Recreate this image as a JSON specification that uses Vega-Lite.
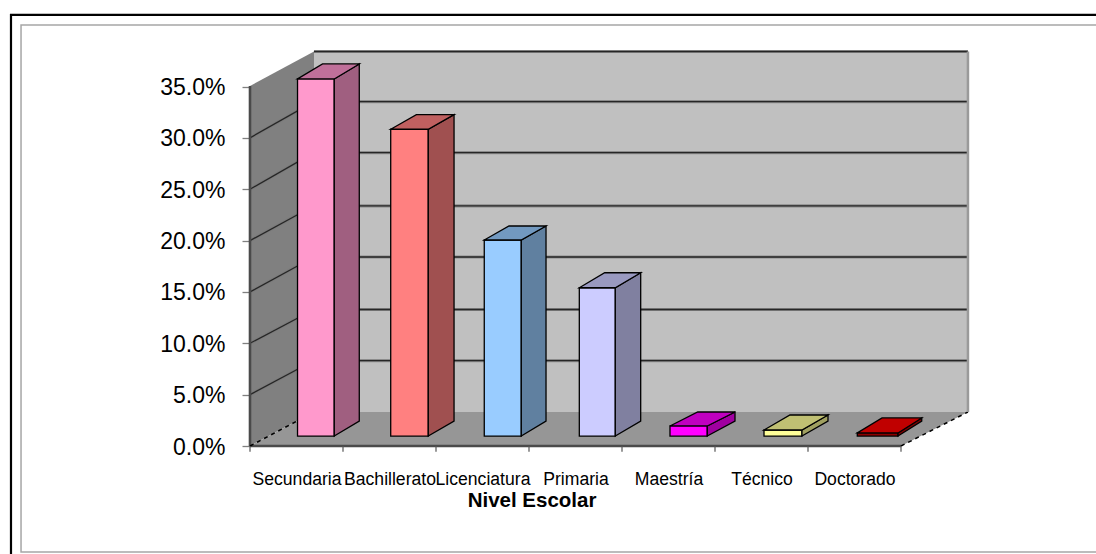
{"$schema":"https://vega.github.io/schema/vega-lite/v6.json","width":719,"height":395,"autosize":"none","padding":{"left":250,"top":51,"right":127,"bottom":108},"background":"#ffffff","config":{"view":{"stroke":null},"font":"Liberation Sans"},
"layer":[
{"data":{"values":[{"x":-2.57,"x2":9.5,"y":0.4197,"y2":-0.15}]},"mark":{"type":"rect","fill":null,"stroke":"#000000","strokeWidth":2.2},"encoding":{"x":{"field":"x","type":"quantitative","scale":{"domain":[0,7.7312],"nice":false,"zero":false},"axis":{"title":"Nivel Escolar","titleFont":"Liberation Sans","titleFontSize":20.5,"titleFontWeight":"bold","titleColor":"#000000","titleX":281.5,"titleY":60,"titleBaseline":"alphabetic","values":[0.5,1.5,2.5,3.5,4.5,5.5,6.5],"labelExpr":"['Secundaria','Bachillerato','Licenciatura','Primaria','Maestría','Técnico','Doctorado'][floor(datum.value)]","labelFont":"Liberation Sans","labelFontSize":17.6,"labelColor":"#000000","labelPadding":24,"labelOverlap":false,"labelFlush":false,"labelBound":false,"ticks":false,"domain":false,"grid":false}},"x2":{"field":"x2"},"y":{"field":"y","type":"quantitative","scale":{"domain":[0,0.3846],"nice":false,"zero":false},"axis":{"title":null,"values":[0,0.05,0.1,0.15,0.2,0.25,0.3,0.35],"format":".1%","labelFont":"Liberation Sans","labelFontSize":23,"labelColor":"#000000","labelPadding":17,"labelOffset":1,"tickSize":8,"tickColor":"#808080","tickWidth":1.3,"domain":false,"grid":false}},"y2":{"field":"y2"}}},
{"data":{"values":[{"x":-2.462,"x2":9.5,"y":0.4099,"y2":-0.1032}]},"mark":{"type":"rect","fill":null,"stroke":"#a6a6a6","strokeWidth":1.5},"encoding":{"x":{"field":"x","type":"quantitative"},"x2":{"field":"x2"},"y":{"field":"y","type":"quantitative"},"y2":{"field":"y2"}}},
{"data":{"values":[
{"cara":"pared izquierda","x":0,"y":0,"y2":0.3505},{"cara":"pared izquierda","x":0.688,"y":0.0331,"y2":0.3841},
{"cara":"pared fondo","x":0.688,"y":0.0331,"y2":0.3841},{"cara":"pared fondo","x":7.72,"y":0.0331,"y2":0.3841},
{"cara":"piso","x":0,"y":0,"y2":0},{"cara":"piso","x":0.688,"y":0,"y2":0.0331},{"cara":"piso","x":7,"y":0,"y2":0.0331},{"cara":"piso","x":7.72,"y":0.0331,"y2":0.0331}
]},"mark":{"type":"area","interpolate":"linear"},"encoding":{"x":{"field":"x","type":"quantitative"},"y":{"field":"y","type":"quantitative","stack":null},"y2":{"field":"y2"},"fill":{"field":"cara","type":"nominal","legend":null,"scale":{"domain":["pared izquierda","pared fondo","piso"],"range":["#808080","#c0c0c0","#969696"]}}}},
{"data":{"name":"rejilla","values":[
{"x":0.688,"x2":7.72,"y":0.0832,"y2":0.0832},{"x":0.688,"x2":7.72,"y":0.1329,"y2":0.1329},{"x":0.688,"x2":7.72,"y":0.184,"y2":0.184},{"x":0.688,"x2":7.72,"y":0.2339,"y2":0.2339},{"x":0.688,"x2":7.72,"y":0.2856,"y2":0.2856},{"x":0.688,"x2":7.72,"y":0.3353,"y2":0.3353},{"x":0.688,"x2":7.72,"y":0.3841,"y2":0.3841},
{"x":0,"x2":0.688,"y":0.05,"y2":0.0832},{"x":0,"x2":0.688,"y":0.1,"y2":0.1329},{"x":0,"x2":0.688,"y":0.15,"y2":0.184},{"x":0,"x2":0.688,"y":0.2,"y2":0.2339},{"x":0,"x2":0.688,"y":0.25,"y2":0.2856},{"x":0,"x2":0.688,"y":0.3,"y2":0.3353}
]},"mark":{"type":"rule","stroke":"#7a7a7a","strokeWidth":3.2,"opacity":0.75},"encoding":{"x":{"field":"x","type":"quantitative"},"x2":{"field":"x2"},"y":{"field":"y","type":"quantitative"},"y2":{"field":"y2"}}},
{"data":{"name":"rejilla"},"mark":{"type":"rule","stroke":"#262626","strokeWidth":1.3},"encoding":{"x":{"field":"x","type":"quantitative"},"x2":{"field":"x2"},"y":{"field":"y","type":"quantitative"},"y2":{"field":"y2"}}},
{"data":{"values":[{"x":0,"x2":0,"y":0,"y2":0.3505},{"x":0,"x2":7,"y":0,"y2":0}]},"mark":{"type":"rule","stroke":"#4a4a4a","strokeWidth":2.6},"encoding":{"x":{"field":"x","type":"quantitative"},"x2":{"field":"x2"},"y":{"field":"y","type":"quantitative"},"y2":{"field":"y2"}}},
{"data":{"values":[{"x":0,"x2":0.688,"y":0,"y2":0.0331},{"x":7,"x2":7.72,"y":0,"y2":0.0331}]},"mark":{"type":"rule","stroke":"#000000","strokeWidth":1.5,"strokeDash":[4,4]},"encoding":{"x":{"field":"x","type":"quantitative"},"x2":{"field":"x2"},"y":{"field":"y","type":"quantitative"},"y2":{"field":"y2"}}},
{"data":{"values":[{"x":7.72,"x2":7.72,"y":0.0331,"y2":0.3841}]},"mark":{"type":"rule","stroke":"#9a9a9a","strokeWidth":2.5},"encoding":{"x":{"field":"x","type":"quantitative"},"x2":{"field":"x2"},"y":{"field":"y","type":"quantitative"},"y2":{"field":"y2"}}},
{"data":{"values":[{"x":0,"y":0},{"x":1,"y":0},{"x":2,"y":0},{"x":3,"y":0},{"x":4,"y":0},{"x":5,"y":0},{"x":6,"y":0},{"x":7,"y":0}]},"mark":{"type":"rule","stroke":"#555555","strokeWidth":1.2},"encoding":{"x":{"field":"x","type":"quantitative"},"y":{"field":"y","type":"quantitative"},"y2":{"datum":-0.0055}}},
{"data":{"values":[{"nivel":"Secundaria","x":0.511,"x2":0.906,"tope":0.3574,"base":0.0097},{"nivel":"Bachillerato","x":1.513,"x2":1.917,"tope":0.3084,"base":0.0097},{"nivel":"Licenciatura","x":2.519,"x2":2.917,"tope":0.2006,"base":0.0097},{"nivel":"Primaria","x":3.541,"x2":3.928,"tope":0.1541,"base":0.0097},{"nivel":"Maestría","x":4.516,"x2":4.917,"tope":0.0195,"base":0.0097},{"nivel":"Técnico","x":5.527,"x2":5.935,"tope":0.0156,"base":0.0097},{"nivel":"Doctorado","x":6.53,"x2":6.968,"tope":0.0127,"base":0.0097}]},"mark":{"type":"rect","stroke":"#000000","strokeWidth":1.3},"encoding":{"x":{"field":"x","type":"quantitative"},"x2":{"field":"x2"},"y":{"field":"tope","type":"quantitative"},"y2":{"field":"base"},"fill":{"field":"nivel","type":"nominal","legend":null,"scale":{"domain":["Secundaria","Bachillerato","Licenciatura","Primaria","Maestría","Técnico","Doctorado"],"range":["#ff99cc","#ff8080","#99ccff","#ccccff","#ff00ff","#ffff99","#8c0000"]}}}},
{"data":{"values":[
{"cara":"Secundaria lado","x":0.906,"y":0.0097,"y2":0.3574},{"cara":"Secundaria lado","x":1.175,"y":0.0243,"y2":0.372},
{"cara":"Bachillerato lado","x":1.917,"y":0.0097,"y2":0.3084},{"cara":"Bachillerato lado","x":2.194,"y":0.0243,"y2":0.3226},
{"cara":"Licenciatura lado","x":2.917,"y":0.0097,"y2":0.2006},{"cara":"Licenciatura lado","x":3.183,"y":0.0243,"y2":0.2142},
{"cara":"Primaria lado","x":3.928,"y":0.0097,"y2":0.1541},{"cara":"Primaria lado","x":4.201,"y":0.0243,"y2":0.1687},
{"cara":"Maestría lado","x":4.917,"y":0.0097,"y2":0.0195},{"cara":"Maestría lado","x":5.215,"y":0.0243,"y2":0.0331},
{"cara":"Técnico lado","x":5.935,"y":0.0097,"y2":0.0156},{"cara":"Técnico lado","x":6.215,"y":0.0243,"y2":0.0302},
{"cara":"Doctorado lado","x":6.968,"y":0.0097,"y2":0.0127},{"cara":"Doctorado lado","x":7.223,"y":0.0243,"y2":0.0273},
{"cara":"Secundaria tapa","x":0.511,"y":0.3574,"y2":0.3574},{"cara":"Secundaria tapa","x":0.78,"y":0.3574,"y2":0.372},{"cara":"Secundaria tapa","x":0.906,"y":0.3574,"y2":0.372},{"cara":"Secundaria tapa","x":1.175,"y":0.372,"y2":0.372},
{"cara":"Bachillerato tapa","x":1.513,"y":0.3084,"y2":0.3084},{"cara":"Bachillerato tapa","x":1.789,"y":0.3084,"y2":0.3226},{"cara":"Bachillerato tapa","x":1.917,"y":0.3084,"y2":0.3226},{"cara":"Bachillerato tapa","x":2.194,"y":0.3226,"y2":0.3226},
{"cara":"Licenciatura tapa","x":2.519,"y":0.2006,"y2":0.2006},{"cara":"Licenciatura tapa","x":2.785,"y":0.2006,"y2":0.2142},{"cara":"Licenciatura tapa","x":2.917,"y":0.2006,"y2":0.2142},{"cara":"Licenciatura tapa","x":3.183,"y":0.2142,"y2":0.2142},
{"cara":"Primaria tapa","x":3.541,"y":0.1541,"y2":0.1541},{"cara":"Primaria tapa","x":3.814,"y":0.1541,"y2":0.1687},{"cara":"Primaria tapa","x":3.928,"y":0.1541,"y2":0.1687},{"cara":"Primaria tapa","x":4.201,"y":0.1687,"y2":0.1687},
{"cara":"Maestría tapa","x":4.516,"y":0.0195,"y2":0.0195},{"cara":"Maestría tapa","x":4.814,"y":0.0195,"y2":0.0331},{"cara":"Maestría tapa","x":4.917,"y":0.0195,"y2":0.0331},{"cara":"Maestría tapa","x":5.215,"y":0.0331,"y2":0.0331},
{"cara":"Técnico tapa","x":5.527,"y":0.0156,"y2":0.0156},{"cara":"Técnico tapa","x":5.806,"y":0.0156,"y2":0.0302},{"cara":"Técnico tapa","x":5.935,"y":0.0156,"y2":0.0302},{"cara":"Técnico tapa","x":6.215,"y":0.0302,"y2":0.0302},
{"cara":"Doctorado tapa","x":6.53,"y":0.0127,"y2":0.0127},{"cara":"Doctorado tapa","x":6.796,"y":0.0127,"y2":0.0273},{"cara":"Doctorado tapa","x":6.968,"y":0.0127,"y2":0.0273},{"cara":"Doctorado tapa","x":7.223,"y":0.0273,"y2":0.0273}
]},"mark":{"type":"area","interpolate":"linear","stroke":"#000000","strokeWidth":1.3},"encoding":{"x":{"field":"x","type":"quantitative"},"y":{"field":"y","type":"quantitative","stack":null},"y2":{"field":"y2"},"fill":{"field":"cara","type":"nominal","legend":null,"scale":{"domain":["Secundaria lado","Bachillerato lado","Licenciatura lado","Primaria lado","Maestría lado","Técnico lado","Doctorado lado","Secundaria tapa","Bachillerato tapa","Licenciatura tapa","Primaria tapa","Maestría tapa","Técnico tapa","Doctorado tapa"],"range":["#a05f80","#a05050","#6080a0","#8080a0","#a000a0","#a0a060","#800000","#c0709a","#c06060","#7299c0","#9999c0","#c000c0","#c0c073","#c00000"]}}}}
],"resolve":{"scale":{"fill":"independent"}}}
